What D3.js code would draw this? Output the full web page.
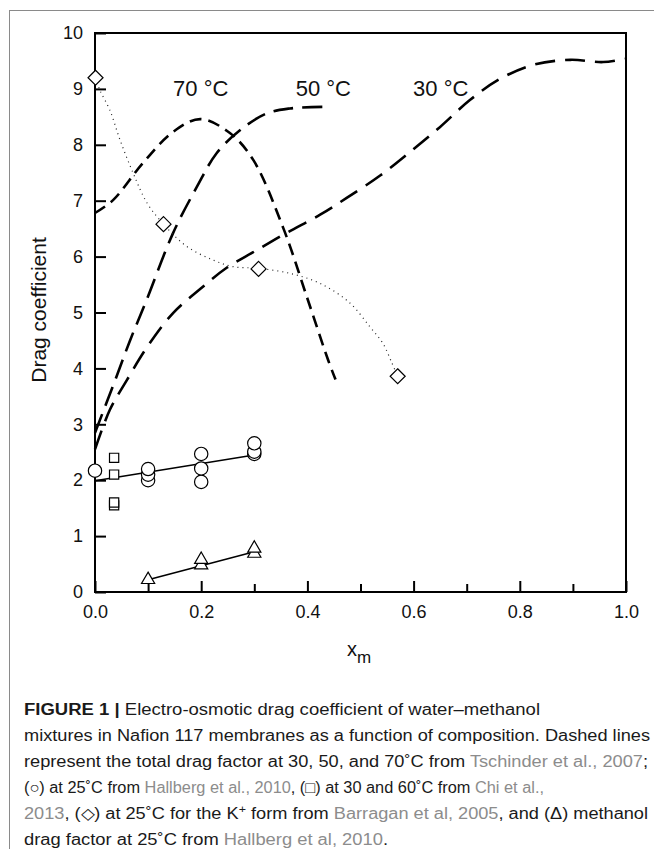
<!DOCTYPE html>
<html>
<head>
<meta charset="utf-8">
<script src="https://cdn.jsdelivr.net/npm/d3@7"></script>
<style>
  body { margin: 0; background: #fff; }
  svg { display: block; font-family: "Liberation Sans", Arial, sans-serif; }
</style>
</head>
<body>
<div id="chart"></div>
<script>
// ---- data ----
var curve30 = [[0,2.55],[0.028,3.26],[0.06,3.79],[0.098,4.38],[0.147,4.99],[0.198,5.42],[0.248,5.8],[0.298,6.08],[0.36,6.42],[0.424,6.75],[0.474,7.05],[0.537,7.45],[0.593,7.87],[0.65,8.32],[0.706,8.8],[0.763,9.18],[0.825,9.43],[0.895,9.52],[0.957,9.48],[1.0,9.54]];
var curve50 = [[0,2.85],[0.038,3.79],[0.066,4.5],[0.097,5.22],[0.147,6.42],[0.192,7.25],[0.229,7.85],[0.273,8.26],[0.323,8.56],[0.367,8.65],[0.443,8.68]];
var curve70 = [[0,6.78],[0.034,7.01],[0.09,7.67],[0.147,8.23],[0.198,8.46],[0.254,8.21],[0.298,7.73],[0.355,6.5],[0.4,5.25],[0.439,4.15],[0.453,3.8]];
var dottedK = [[0.001,9.2],[0.009,8.98],[0.028,8.62],[0.047,8.09],[0.072,7.49],[0.098,6.96],[0.129,6.58],[0.173,6.18],[0.222,5.94],[0.26,5.82],[0.308,5.79],[0.367,5.7],[0.424,5.52],[0.48,5.17],[0.518,4.74],[0.542,4.45],[0.559,4.1],[0.57,3.86]];

var diamonds = [[0.001,9.2],[0.129,6.58],[0.308,5.78],[0.57,3.86]];
var circles = [[0,2.17],[0.1,2.0],[0.1,2.1],[0.1,2.2],[0.2,1.97],[0.2,2.21],[0.2,2.47],[0.3,2.47],[0.3,2.51],[0.3,2.66]];
var squares = [[0.036,1.55],[0.036,1.6],[0.036,2.1],[0.036,2.4]];
var triangles = [[0.1,0.22],[0.2,0.48],[0.2,0.58],[0.3,0.69],[0.3,0.78]];
var circleFit = [[0,1.99],[0.3,2.45]];
var triangleFit = [[0.1,0.22],[0.3,0.72]];

var tempLabels = ['70 °C','50 °C','30 °C'];
var tempLabelX = [0.147, 0.378, 0.599];
var tempLabelY = [9.0, 9.0, 9.0];

var xMajor = [0,0.2,0.4,0.6,0.8,1.0];
var xMinor = [0.1,0.3,0.5,0.7,0.9];
var yTicks = [0,1,2,3,4,5,6,7,8,9,10];

// caption lines: [text, style] pieces
var caption = [
  [['FIGURE 1 |','b'],[' Electro-osmotic drag coefficient of water\u2013methanol','']],
  [['mixtures in Nafion 117 membranes as a function of composition. Dashed lines','']],
  [['represent the total drag factor at 30, 50, and 70\u02daC from ',''],['Tschinder et al., 2007','g'],[';','']],
  [['(\u25cb) at 25\u02daC from ',''],['Hallberg et al., 2010','g'],[', (\u25a1) at 30 and 60\u02daC from ',''],['Chi et al.,','g']],
  [['2013','g'],[', (\u25c7) at 25\u02daC for the K',''],['+','s'],[' form from ','r'],['Barragan et al, 2005','g'],[', and (\u0394) methanol','']],
  [['drag factor at 25\u02daC from ',''],['Hallberg et al, 2010','g'],['.','']]
];
var captionWidth = [516, 626, 624, 520, 624, 364];

// ---- layout ----
var width = 654, height = 849,
  mLeft = 95, mRight = 626, mTop = 33, mBottom = 592;

var svg = d3.select('#chart').append('svg').attr('width', width).attr('height', height);

// page frame (top + left rule)
svg.append('line').attr('x1',9).attr('x2',width).attr('y1',10.5).attr('y2',10.5).attr('stroke','#8a8a8a').attr('stroke-width',1);
svg.append('line').attr('x1',9.5).attr('x2',9.5).attr('y1',10).attr('y2',height).attr('stroke','#8a8a8a').attr('stroke-width',1);

var x = d3.scaleLinear().domain([0,1]).range([mLeft,mRight]);
var y = d3.scaleLinear().domain([0,10]).range([mBottom,mTop]);

var line = d3.line().x(function(d){return x(d[0]);}).y(function(d){return y(d[1]);}).curve(d3.curveCatmullRom.alpha(0.5));
var straight = d3.line().x(function(d){return x(d[0]);}).y(function(d){return y(d[1]);});

// axes
var yAxis = svg.append('g').attr('transform','translate('+mLeft+',0)')
  .call(d3.axisLeft(y).tickValues(yTicks).tickSize(-11).tickSizeOuter(0).tickPadding(12).tickFormat(d3.format('d')));
var xAxis = svg.append('g').attr('transform','translate(0,'+mBottom+')')
  .call(d3.axisBottom(x).tickValues(xMajor).tickSize(-11).tickSizeOuter(0).tickPadding(13).tickFormat(d3.format('.1f')));
var xAxisMinor = svg.append('g').attr('transform','translate(0,'+mBottom+')')
  .call(d3.axisBottom(x).tickValues(xMinor).tickSize(-8).tickSizeOuter(0).tickFormat(''));

[yAxis, xAxis, xAxisMinor].forEach(function(g){
  g.select('.domain').remove();
  g.selectAll('line').attr('stroke','#000').attr('stroke-width',2);
  g.selectAll('text').attr('fill','#111').style('font-size','18px').style('font-family','"Liberation Sans", Arial, sans-serif');
});

// frame
svg.append('rect').attr('x',mLeft).attr('y',mTop).attr('width',mRight-mLeft).attr('height',mBottom-mTop)
  .attr('fill','none').attr('stroke','#000').attr('stroke-width',2);

// dashed temperature curves
var dashed = [[curve70,'12,7'],[curve50,'20,9'],[curve30,'20,10']];
svg.append('g').selectAll('path').data(dashed).enter().append('path')
  .attr('d',function(d){return line(d[0]);})
  .attr('fill','none').attr('stroke','#000').attr('stroke-width',2.6)
  .attr('stroke-dasharray',function(d){return d[1];});

// dotted K+ curve
svg.append('path').attr('d',line(dottedK)).attr('fill','none')
  .attr('stroke','#222').attr('stroke-width',1.2).attr('stroke-dasharray','1,4');

// fit lines
svg.append('path').attr('d',straight(circleFit)).attr('stroke','#000').attr('stroke-width',1.6).attr('fill','none');
svg.append('path').attr('d',straight(triangleFit)).attr('stroke','#000').attr('stroke-width',1.6).attr('fill','none');

// markers
function marker(data, type, size){
  svg.append('g').selectAll('path').data(data).enter().append('path')
    .attr('d', d3.symbol().type(type).size(size))
    .attr('transform',function(d){return 'translate('+x(d[0])+','+y(d[1])+')';})
    .attr('fill','#fff').attr('stroke','#000').attr('stroke-width',1.2);
}
marker(circles, d3.symbolCircle, 140);
marker(squares, d3.symbolSquare, 85);
marker(triangles, d3.symbolTriangle, 75);
svg.append('g').selectAll('path').data(diamonds).enter().append('path')
  .attr('d','M0,-7.5L7.5,0L0,7.5L-7.5,0Z')
  .attr('transform',function(d){return 'translate('+x(d[0])+','+y(d[1])+')';})
  .attr('fill','#fff').attr('stroke','#000').attr('stroke-width',1.2);

// temperature labels
svg.append('g').selectAll('text').data(tempLabels).enter().append('text')
  .attr('x',function(d,i){return x(tempLabelX[i]);})
  .attr('y',function(d,i){return y(tempLabelY[i]) + 7;})
  .style('font-size','22px').attr('fill','#111')
  .text(function(d){return d;});

// axis titles
svg.append('text').attr('transform','translate(46,310) rotate(-90)')
  .attr('text-anchor','middle').style('font-size','21px').attr('fill','#111').text('Drag coefficient');
var xt = svg.append('text').attr('x',347).attr('y',656).style('font-size','20px').attr('fill','#111');
xt.append('tspan').text('x');
xt.append('tspan').attr('dy',7).style('font-size','17px').text('m');

// caption
var cap = svg.append('g').style('font-size','16px');
caption.forEach(function(parts, i){
  var t = cap.append('text').attr('x',24).attr('y',715 + i*26)
    .attr('textLength',captionWidth[i]).attr('lengthAdjust','spacingAndGlyphs');
  parts.forEach(function(p){
    var s = t.append('tspan').text(p[0]).attr('fill', p[1]=='g' ? '#8c8c8c' : '#1a1a1a');
    if(p[1]=='b') s.style('font-weight','bold');
    if(p[1]=='s') s.attr('dy',-6).style('font-size','11px');
    if(p[1]=='r') s.attr('dy',6);
  });
});
</script>
</body>
</html>
